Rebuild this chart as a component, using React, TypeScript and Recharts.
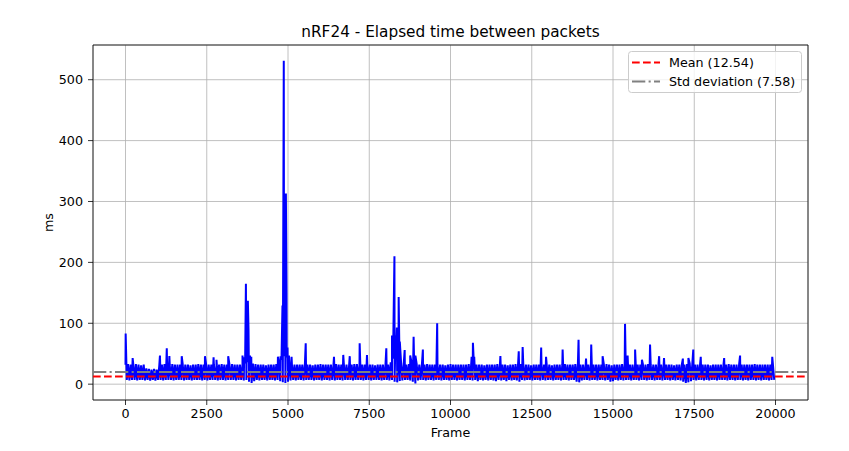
import React from 'react';
import { LineChart, Line, XAxis, YAxis, CartesianGrid, ReferenceLine, ReferenceArea } from 'recharts';

// Band columns: one upper and one lower reading per 80-frame column (frames c*80 and c*80+40)
const columnStep = 80;
const bandHigh: number[] = [
  32, 33, 32, 32, 33, 32, 31, 32, 26, 25,
  24, 25, 24, 31, 32, 33, 32, 32, 33, 32,
  32, 32, 33, 32, 32, 31, 32, 32, 33, 32,
  32, 33, 32, 32, 32, 31, 32, 33, 32, 32,
  32, 33, 32, 32, 32, 33, 34, 36, 38, 34,
  33, 32, 32, 32, 31, 32, 32, 32, 33, 35,
  40, 46, 44, 36, 33, 32, 32, 32, 32, 33,
  32, 32, 31, 32, 32, 33, 32, 32, 32, 32,
  32, 33, 32, 32, 32, 32, 31, 32, 33, 33,
  32, 32, 32, 33, 32, 32, 31, 32, 32, 32,
  33, 32, 36, 42, 46, 40, 35, 33, 32, 33,
  36, 38, 33, 32, 32, 32, 33, 32, 32, 32,
  32, 32, 32, 31, 32, 33, 32, 32, 32, 32,
  32, 32, 33, 36, 33, 32, 32, 32, 31, 32,
  32, 32, 32, 33, 32, 32, 32, 31, 32, 32,
  33, 34, 33, 32, 32, 32, 31, 32, 32, 32,
  33, 32, 32, 32, 31, 32, 32, 32, 32, 33,
  32, 32, 32, 33, 34, 32, 32, 33, 32, 33,
  32, 32, 32, 32, 32, 33, 32, 31, 32, 32,
  32, 33, 34, 33, 32, 32, 33, 32, 32, 33,
  32, 33, 32, 32, 32, 33, 32, 33, 32, 32,
  32, 31, 32, 32, 33, 32, 33, 34, 33, 32,
  32, 33, 32, 32, 32, 31, 32, 32, 32, 32,
  32, 32, 33, 32, 32, 32, 32, 32, 32, 32,
  32, 32, 33, 32, 32, 32, 32, 32, 32, 33,
];
const bandLow: number[] = [
  7, 6, 7, 7, 6, 7, 7, 6, 7, 6,
  7, 6, 7, 7, 6, 7, 7, 7, 6, 7,
  7, 7, 6, 7, 7, 6, 7, 7, 7, 6,
  7, 6, 7, 7, 7, 6, 7, 7, 6, 7,
  7, 7, 6, 7, 7, 6, 7, 4, 2, 5,
  7, 6, 7, 7, 6, 7, 7, 6, 7, 5,
  3, 2, 4, 6, 7, 6, 7, 7, 6, 7,
  7, 7, 6, 7, 7, 6, 7, 7, 6, 7,
  6, 7, 7, 6, 7, 7, 7, 6, 7, 7,
  7, 6, 7, 7, 6, 7, 7, 7, 6, 7,
  7, 6, 7, 4, 3, 5, 6, 7, 7, 6,
  4, 1, 6, 7, 7, 6, 7, 7, 6, 7,
  7, 6, 7, 7, 6, 7, 7, 6, 7, 7,
  6, 7, 7, 6, 7, 5, 7, 6, 7, 6,
  7, 6, 5, 7, 6, 7, 5, 7, 6, 7,
  6, 4, 7, 6, 7, 7, 6, 7, 7, 6,
  7, 6, 7, 7, 6, 7, 7, 6, 7, 7,
  6, 7, 7, 4, 3, 6, 7, 7, 6, 7,
  7, 6, 7, 7, 6, 7, 4, 5, 7, 6,
  7, 6, 7, 7, 6, 7, 7, 6, 7, 7,
  6, 7, 7, 6, 7, 7, 6, 7, 7, 6,
  7, 6, 7, 6, 4, 2, 3, 5, 7, 6,
  7, 7, 6, 7, 6, 7, 7, 6, 7, 7,
  7, 6, 7, 7, 6, 7, 7, 6, 7, 6,
  7, 7, 6, 7, 6, 7, 7, 6, 7, 7,
];

// Isolated peaks
const spikeFrames: number[] = [
  5, 220, 1060, 1270, 1350, 1730, 2445, 2710, 2800, 3160,
  3600, 3650, 3705, 3725, 3765, 3785, 3830, 3870, 4690, 4770,
  4830, 4870, 4890, 4915, 4935, 4955, 4985, 5030, 5110, 5545,
  6415, 6700, 6900, 7205, 7430, 8025, 8200, 8240, 8275, 8310,
  8350, 8405, 8440, 8590, 8760, 8865, 8920, 9150, 9590, 10650,
  10690, 10730, 11535, 12100, 12220, 12790, 12940, 13450, 13940, 14170,
  14330, 14680, 15370, 15450, 15680, 15890, 16140, 16420, 16570, 17150,
  17320, 17470, 17700, 18420, 18910, 19900,
];
const spikeValues: number[] = [
  83, 43, 47, 59, 46, 46, 46, 44, 40, 46,
  47, 44, 165, 70, 137, 90, 47, 45, 45, 46,
  129, 531, 220, 120, 313, 150, 60, 47, 45, 67,
  45, 48, 46, 67, 48, 59, 80, 75, 210, 80,
  93, 143, 70, 56, 47, 78, 47, 57, 100, 45,
  68, 45, 46, 54, 61, 60, 45, 57, 73, 42,
  65, 46, 99, 47, 57, 40, 65, 46, 43, 42,
  43, 57, 45, 43, 47, 45,
];

const xTicks = [0, 2500, 5000, 7500, 10000, 12500, 15000, 17500, 20000];
const yTicks = [0, 100, 200, 300, 400, 500];
const meanValue = 12.54;
const stdValue = 7.58;
const titleText = 'nRF24 - Elapsed time between packets';

type Pt = { frame: number; ms: number };
const points: Pt[] = [];
bandHigh.forEach((v, i) => {
  points.push({ frame: i * columnStep, ms: v });
  points.push({ frame: i * columnStep + columnStep / 2, ms: bandLow[i] });
});
spikeFrames.forEach((f, i) => points.push({ frame: f, ms: spikeValues[i] }));
const data = points.sort((a, b) => a.frame - b.frame);

const FONT = '"DejaVu Sans", sans-serif';
const BODY = 12.7;
const TITLE = 15.3;
const tickStyle = { fill: '#000', fontSize: BODY, fontFamily: FONT };

export default function App() {
  return (
    <div style={{ position: 'absolute', left: 0, top: 0, width: 849, height: 451, background: '#fff' }}>
      <LineChart
        width={849}
        height={451}
        data={data}
        margin={{ top: 45, right: 41, bottom: 21, left: 33 }}
      >
        <CartesianGrid stroke="#b0b0b0" strokeWidth={0.8} />
        <XAxis
          dataKey="frame"
          type="number"
          domain={[-1000, 21000]}
          allowDataOverflow
          ticks={xTicks}
          interval={0}
          height={30}
          axisLine={false}
          tickSize={5}
          tickMargin={4}
          tickLine={{ stroke: '#000', strokeWidth: 0.8 }}
          tick={tickStyle}
        />
        <YAxis
          type="number"
          domain={[-26, 557]}
          allowDataOverflow
          ticks={yTicks}
          interval={0}
          width={60}
          axisLine={false}
          tickSize={5}
          tickMargin={5}
          tickLine={{ stroke: '#000', strokeWidth: 0.8 }}
          tick={tickStyle}
        />
        <Line
          type="linear"
          dataKey="ms"
          stroke="#0000ff"
          strokeWidth={2}
          dot={false}
          activeDot={false}
          isAnimationActive={false}
        />
        <ReferenceLine y={meanValue} stroke="#ff0000" strokeWidth={2} strokeDasharray="7.7 3.3" />
        <ReferenceLine y={meanValue + stdValue} stroke="#808080" strokeWidth={2} strokeDasharray="13.3 3.3 2.1 3.3" />
        <ReferenceArea x1={-1000} x2={21000} y1={-26} y2={557} fill="none" stroke="#000" strokeWidth={0.8} />
      </LineChart>
      <svg
        width={849}
        height={451}
        style={{ position: 'absolute', left: 0, top: 0, pointerEvents: 'none' }}
      >
        <text x={450.5} y={37} textAnchor="middle" fontFamily={FONT} fontSize={TITLE} fill="#000">
          {titleText}
        </text>
        <text x={450.5} y={437} textAnchor="middle" fontFamily={FONT} fontSize={BODY} fill="#000">
          Frame
        </text>
        <text x={53} y={222.5} textAnchor="middle" fontFamily={FONT} fontSize={BODY} fill="#000" transform="rotate(-90 53 222.5)">
          ms
        </text>
        <rect x={628.5} y={51.5} width={173} height={41} rx={3} fill="rgba(255,255,255,0.8)" stroke="#cccccc" strokeWidth={1} />
        <line x1={632} y1={62.5} x2={660} y2={62.5} stroke="#ff0000" strokeWidth={2} strokeDasharray="7.7 3.3" />
        <text x={669} y={67} fontFamily={FONT} fontSize={BODY} fill="#000">
          Mean ({meanValue.toFixed(2)})
        </text>
        <line x1={632} y1={81.5} x2={660} y2={81.5} stroke="#808080" strokeWidth={2} strokeDasharray="13.3 3.3 2.1 3.3" />
        <text x={669} y={86} fontFamily={FONT} fontSize={BODY} fill="#000">
          Std deviation ({stdValue.toFixed(2)})
        </text>
      </svg>
    </div>
  );
}
